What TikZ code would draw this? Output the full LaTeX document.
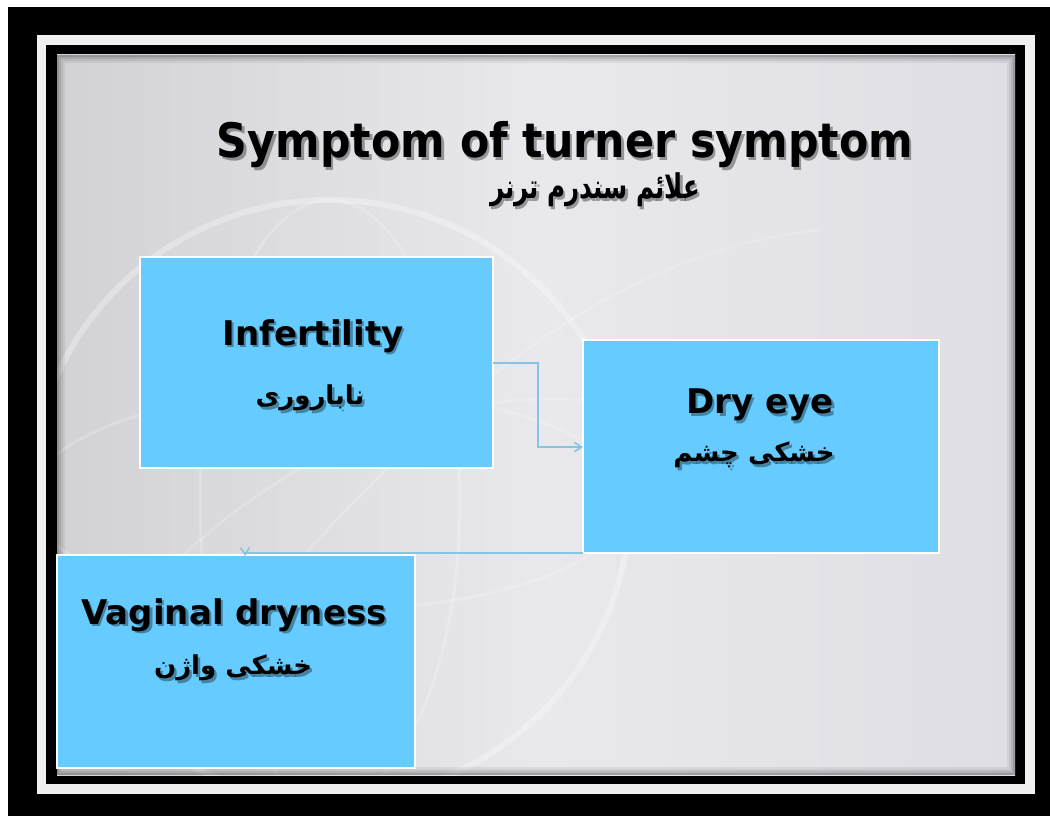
\documentclass[tikz,border=0pt]{standalone}
\usepackage{fontspec}
\usepackage{graphicx}
\setmainfont{DejaVu Sans}
\newfontfamily\latfont[FakeStretch=0.9]{DejaVu Sans}
\newfontfamily\arabicfont[Script=Arabic]{DejaVu Sans}
\newfontfamily\arabicnarrow[Script=Arabic,FakeStretch=0.72]{DejaVu Sans}
\TeXXeTstate=1
\usetikzlibrary{arrows.meta}
\definecolor{boxblue}{RGB}{102,204,255}
\definecolor{conn}{RGB}{135,196,228}
\definecolor{slideL}{RGB}{210,210,213}
\definecolor{slideM}{RGB}{233,233,237}
\definecolor{slideR}{RGB}{222,222,228}
\tikzset{
  sbox/.style={draw=white, line width=2pt, fill=boxblue},
  ttl/.style={inner sep=0pt, text=black},
  shd/.style={inner sep=0pt, text=black, opacity=0.35, xshift=2.5pt, yshift=-2.5pt},
  titlefont/.style={font=\latfont\bfseries\fontsize{47.5}{52}\selectfont},
  subfont/.style={font=\arabicnarrow\bfseries\fontsize{34}{38}\selectfont},
  boxfont/.style={font=\bfseries\fontsize{34}{38}\selectfont},
  arfont/.style={font=\arabicfont\bfseries\fontsize{26}{30}\selectfont},
  conline/.style={draw=conn, line width=1.6pt, -{Straight Barb[length=7pt,width=9pt]}},
}
\begin{document}
\begin{tikzpicture}[x=1pt,y=-1pt]
\useasboundingbox (0,0) rectangle (1050,816);
\fill[white] (0,0) rectangle (1050,816);
\fill[black] (8,7) rectangle (1050,816);
\fill[white!94!black] (37,35) rectangle (1035,794);
\fill[black] (46,45) rectangle (1025,784);
% slide
\shade[left color=slideL, right color=slideR, middle color=slideM] (57,55) rectangle (1015,775);
% globe hints
\begin{scope}
\clip (57,55) rectangle (1015,775);
\draw[white, opacity=0.3, line width=6pt] (330,500) circle (300);
\draw[white, opacity=0.2, line width=3pt] (330,500) ellipse (300 and 110);
\draw[white, opacity=0.2, line width=3pt] (330,500) ellipse (130 and 300);
\draw[white, opacity=0.18, line width=3pt] (60,700) .. controls (250,420) and (500,360) .. (700,420);
\draw[white, opacity=0.18, line width=3pt] (120,770) .. controls (300,560) and (520,260) .. (820,230);
% inner shadow
\foreach \i/\o in {1/0.30,3/0.20,5/0.12,7/0.06}{
  \draw[black, opacity=\o, line width=2pt] (57+\i,55+\i) rectangle (1015-\i,775-\i);
}
\end{scope}
% title
\node[shd, titlefont] at (565,145) {Symptom of turner symptom};
\node[ttl, titlefont] (title) at (565,145) {Symptom of turner symptom};
\node[shd, subfont] at (595,190) {\beginR علائم سندرم ترنر\endR};
\node[ttl, subfont] (subtitle) at (595,190) {\beginR علائم سندرم ترنر\endR};
% boxes
\path[sbox] (140,257) rectangle (493,468);
\coordinate (infR) at (493,363);
\path[sbox] (583,340) rectangle (939,553);
\coordinate (dryL) at (583,447);
\coordinate (dryBL) at (583,553);
\path[sbox] (57,555) rectangle (415,768);
\coordinate (vagT) at (245,556);
% box texts
\node[shd, boxfont] at (313,336) {Infertility};
\node[ttl, boxfont] (t1) at (313,336) {Infertility};
\node[shd, arfont] at (310,398) {\beginR ناباروری\endR};
\node[ttl, arfont] (a1) at (310,398) {\beginR ناباروری\endR};
\node[shd, boxfont] at (760,405) {Dry eye};
\node[ttl, boxfont] (t2) at (760,405) {Dry eye};
\node[shd, arfont] at (754,455) {\beginR خشکی چشم\endR};
\node[ttl, arfont] (a2) at (754,455) {\beginR خشکی چشم\endR};
\node[shd, boxfont] at (234,615) {Vaginal dryness};
\node[ttl, boxfont] (t3) at (234,615) {Vaginal dryness};
\node[shd, arfont] at (233,668) {\beginR خشکی واژن\endR};
\node[ttl, arfont] (a3) at (233,668) {\beginR خشکی واژن\endR};
% connectors
\draw[conline] (infR) -- (538,363) |- (dryL);
\draw[conline] (dryBL) -| (vagT);
\end{tikzpicture}
\end{document}
